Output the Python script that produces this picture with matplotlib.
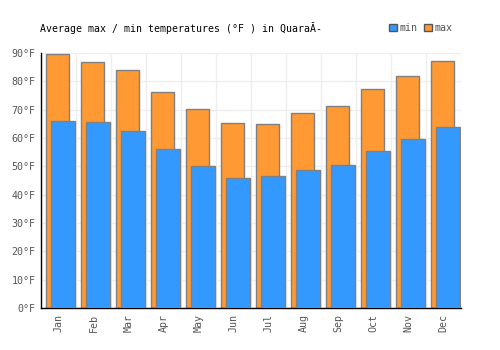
import matplotlib
matplotlib.use("Agg")
import matplotlib.pyplot as plt
import numpy as np
from matplotlib.patches import Patch

months = ["Jan", "Feb", "Mar", "Apr", "May", "Jun", "Jul", "Aug", "Sep", "Oct", "Nov", "Dec"]
t_max = [89.5, 86.7, 83.9, 76.1, 70.1, 65.3, 64.8, 68.7, 71.2, 77.2, 81.8, 87.1]
t_min = [66.0, 65.5, 62.5, 56.1, 50.0, 45.9, 46.6, 48.6, 50.4, 55.4, 59.6, 63.8]
yticks = [0, 10, 20, 30, 40, 50, 60, 70, 80, 90]

plt.rcParams['font.family'] = ['DejaVu Sans Mono']
fig = plt.figure(figsize=(5, 3.5), dpi=100)
ax = fig.add_axes([0.082, 0.12, 0.84, 0.7286])

x = np.arange(len(months))
blue = "#3399ff"
orange = "#ff9933"
edge = "#808080"
ax.bar(x - 0.36, t_max, width=0.67, align="edge", color=orange, edgecolor=edge, linewidth=1, zorder=2)
ax.bar(x - 0.21, t_min, width=0.69, align="edge", color=blue, edgecolor=edge, linewidth=1, zorder=3)

ax.set_xlim(-0.5, 11.5)
ax.set_ylim(0, 90)
ax.set_yticks(yticks)
ax.set_yticklabels([f"{v}°F" for v in yticks])
ax.set_xticks(x)
ax.set_xticklabels(months, rotation=90)
ax.set_xticks(np.arange(-0.5, 12, 1), minor=True)
ax.grid(False)
ax.xaxis.grid(True, which="minor", color="#eeeeee", linewidth=1, zorder=0)
ax.yaxis.grid(True, which="major", color="#eeeeee", linewidth=1, zorder=0)
ax.set_axisbelow(True)
ax.tick_params(axis="both", which="both", length=0, labelsize=7.2, colors="#555555", pad=4)
for s in ["top", "right"]:
    ax.spines[s].set_visible(False)
for s in ["left", "bottom"]:
    ax.spines[s].set_color("black")
    ax.spines[s].set_linewidth(1)

fig.text(0.08, 0.92, "Average max / min temperatures (°F ) in QuaraĂ-", fontsize=7.1, color="black", va="center")
handles = [Patch(facecolor=blue, edgecolor="#555555", label="min"),
           Patch(facecolor=orange, edgecolor="#555555", label="max")]
leg = fig.legend(handles=handles, loc="center right", bbox_to_anchor=(0.905, 0.92), ncol=2,
                 frameon=False, fontsize=7.2, handlelength=0.8, handleheight=0.8,
                 handletextpad=0.3, columnspacing=0.6, borderaxespad=0, borderpad=0)
for t in leg.get_texts():
    t.set_color("#555555")

fig.savefig("out.png", dpi=100)
